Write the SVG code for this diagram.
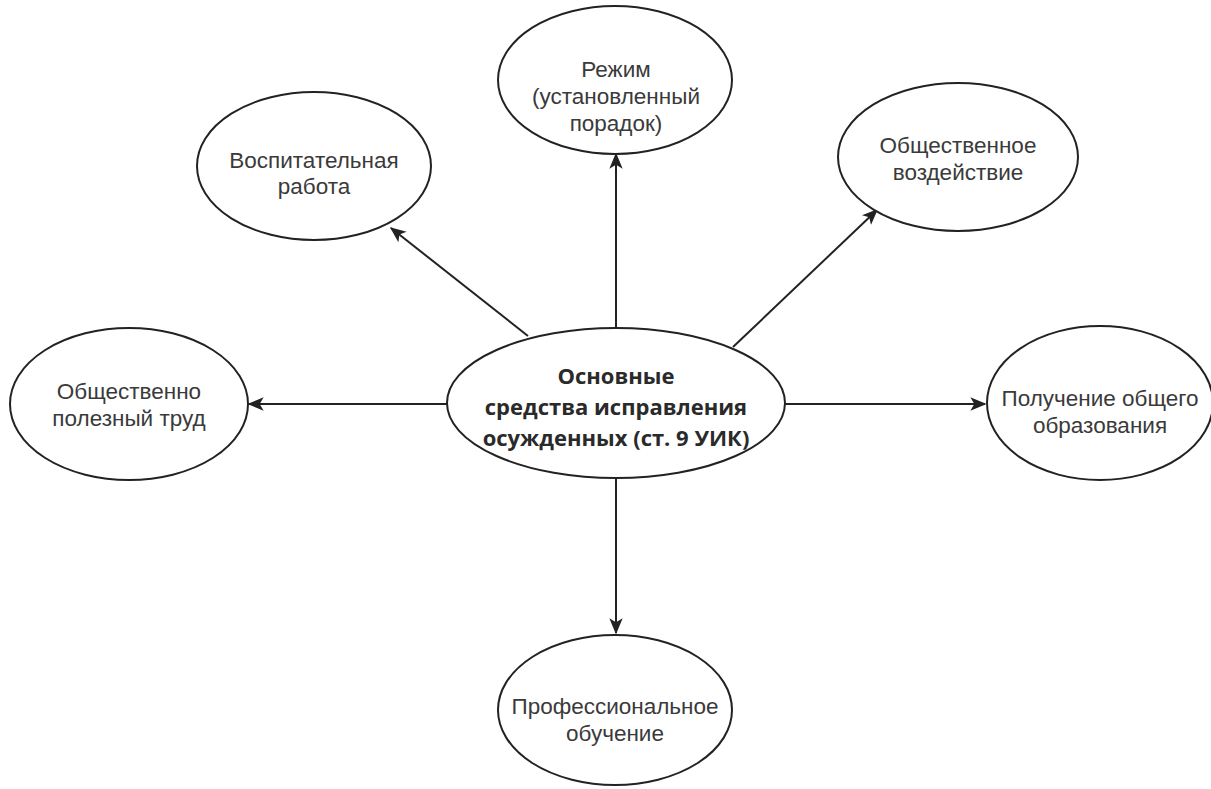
<svg xmlns="http://www.w3.org/2000/svg" width="1211" height="789" viewBox="0 0 1211 789">
<defs>
<style>
.node ellipse{fill:#fff;stroke:#222;stroke-width:2}
.lbl{font-family:"Liberation Sans",Arial,sans-serif;font-size:22.5px;fill:#3a3a3a;text-anchor:middle}
.main{font-family:"Open Sans","Noto Sans",sans-serif;font-size:22px;font-weight:bold;fill:#2a2a2a;text-anchor:middle}
.edge{stroke:#222;stroke-width:2;fill:none;marker-end:url(#arr)}
</style>
<marker id="arr" viewBox="0 0 12 10" refX="11" refY="5" markerWidth="8" markerHeight="7" markerUnits="strokeWidth" orient="auto">
<path d="M0,0 L12,5 L0,10 L3,5 Z" fill="#222"/>
</marker>
</defs>
<rect width="1211" height="789" fill="#fff"/>
<g id="connectors">
<line class="edge" x1="616" y1="328" x2="616" y2="154"/>
<line class="edge" x1="528" y1="336" x2="391" y2="228"/>
<line class="edge" x1="733" y1="347" x2="877" y2="210"/>
<line class="edge" x1="447" y1="404" x2="249" y2="404"/>
<line class="edge" x1="785" y1="404" x2="985" y2="404"/>
<line class="edge" x1="616" y1="478" x2="616" y2="633"/>
</g>
<g id="n-rezhim" class="node">
<ellipse cx="615" cy="80" rx="117" ry="74"/>
<text class="lbl" x="616" y="77">Режим</text>
<text class="lbl" x="616" y="104">(установленный</text>
<text class="lbl" x="616" y="131">порадок)</text>
</g>
<g id="n-vospit" class="node">
<ellipse cx="314" cy="166" rx="117" ry="74"/>
<text class="lbl" x="314" y="168">Воспитательная</text>
<text class="lbl" x="314" y="194">работа</text>
</g>
<g id="n-obsh-vozd" class="node">
<ellipse cx="958" cy="157" rx="120" ry="74"/>
<text class="lbl" x="958" y="153">Общественное</text>
<text class="lbl" x="958" y="180">воздействие</text>
</g>
<g id="n-trud" class="node">
<ellipse cx="129" cy="404" rx="119" ry="76"/>
<text class="lbl" x="129" y="399">Общественно</text>
<text class="lbl" x="129" y="426">полезный труд</text>
</g>
<g id="n-center" class="node">
<ellipse cx="616" cy="403" rx="169" ry="75"/>
<text class="main" x="616" y="384">Основные</text>
<text class="main" x="616" y="415">средства исправления</text>
<text class="main" x="616" y="446">осужденных (ст. 9 УИК)</text>
</g>
<g id="n-obraz" class="node">
<ellipse cx="1100" cy="403" rx="113" ry="77"/>
<text class="lbl" x="1100" y="406">Получение общего</text>
<text class="lbl" x="1100" y="433">образования</text>
</g>
<g id="n-prof" class="node">
<ellipse cx="615" cy="710" rx="117" ry="75"/>
<text class="lbl" x="615" y="714">Профессиональное</text>
<text class="lbl" x="615" y="741">обучение</text>
</g>
</svg>
